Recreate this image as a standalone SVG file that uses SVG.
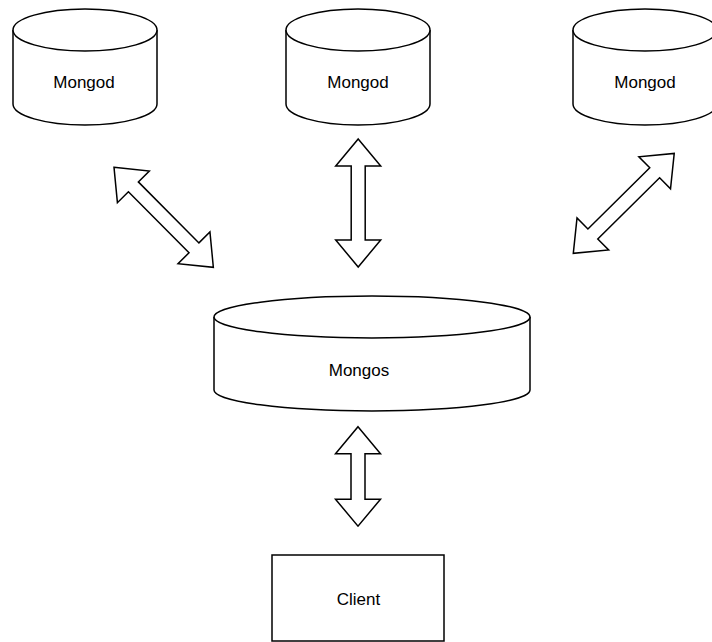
<svg xmlns="http://www.w3.org/2000/svg" width="712" height="642" viewBox="0 0 712 642">
<style>
.shape{fill:#fff;stroke:#000;stroke-width:1.5;stroke-linejoin:miter}
.lbl{font-family:"Liberation Sans",Arial,sans-serif;font-size:17px;fill:#000;text-anchor:middle}
</style>
<rect width="712" height="642" fill="#fff"/>
<defs>
<symbol id="cyl" overflow="visible">
<path class="shape" d="M0,30 A72,21 0 0 1 144,30 V104 A72,21 0 0 1 0,104 Z"/>
<path class="shape" d="M0,30 A72,21 0 0 0 144,30" fill="none"/>
</symbol>
</defs>
<g id="mongod1">
<use href="#cyl" x="13" y="0"/>
<text class="lbl" x="84" y="87.5">Mongod</text>
</g>
<g id="mongod2">
<use href="#cyl" x="286" y="0"/>
<text class="lbl" x="358" y="87.5">Mongod</text>
</g>
<g id="mongod3">
<use href="#cyl" x="573" y="0"/>
<text class="lbl" x="645" y="87.5">Mongod</text>
</g>
<g id="mongos">
<path class="shape" d="M214,317 A158,21 0 0 1 530,317 V390 A158,21 0 0 1 214,390 Z"/>
<path class="shape" d="M214,317 A158,21 0 0 0 530,317" fill="none"/>
<text class="lbl" x="359" y="376">Mongos</text>
</g>
<g id="client">
<rect class="shape" x="272" y="555" width="172" height="86"/>
<text class="lbl" x="358.5" y="605">Client</text>
</g>
<g id="connectors">
<polygon class="shape" transform="translate(114,167.3) rotate(45.2)" points="0,0 27.5,-22.5 27.5,-7 113.5,-7 113.5,-22.5 141,0 113.5,22.5 113.5,7 27.5,7 27.5,22.5"/>
<polygon class="shape" transform="translate(358.2,139) rotate(90)" points="0,0 27,-22.5 27,-7 101,-7 101,-22.5 128,0 101,22.5 101,7 27,7 27,22.5"/>
<polygon class="shape" transform="translate(573.3,253.3) rotate(-44.7)" points="0,0 27.5,-22.5 27.5,-7 114.5,-7 114.5,-22.5 142,0 114.5,22.5 114.5,7 27.5,7 27.5,22.5"/>
<polygon class="shape" transform="translate(358,426.7) rotate(90)" points="0,0 27,-22.5 27,-7 72.5,-7 72.5,-22.5 99.5,0 72.5,22.5 72.5,7 27,7 27,22.5"/>
</g>
</svg>
